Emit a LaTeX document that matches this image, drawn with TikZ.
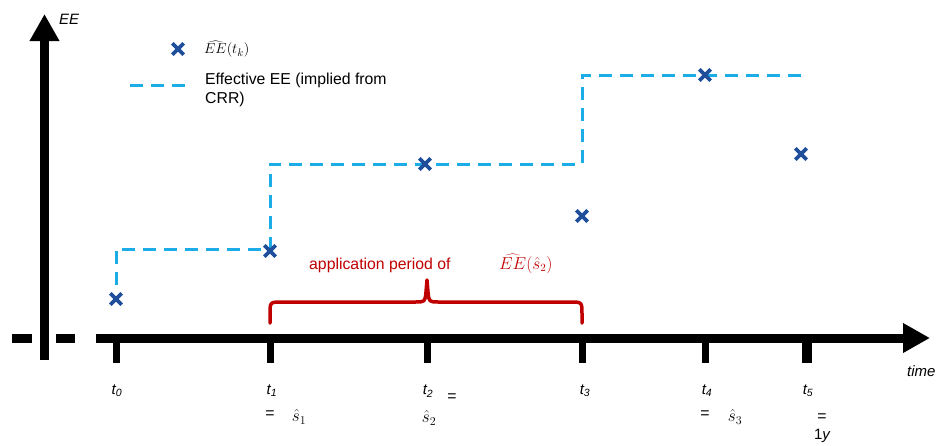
\documentclass[tikz,border=0pt]{standalone}
\usepackage{fontspec}
\setmainfont{Liberation Sans}
\usetikzlibrary{arrows.meta,shapes.misc}
\definecolor{xblue}{HTML}{1F4E9A}
\definecolor{dblue}{HTML}{1CADE8}
\definecolor{bred}{HTML}{C00000}
\begin{document}
\begin{tikzpicture}[x=1pt,y=-1pt,
  axis/.style={line width=9pt,black},
  tickmark/.style={line width=7pt,black},
  xmark/.style={draw=xblue,cross out,line width=3.8pt,minimum size=7.5pt,inner sep=0pt},
  eff/.style={dblue,line width=3pt,dash pattern=on 13pt off 8pt},
  lbl/.style={font=\fontsize{15}{17}\selectfont\itshape,inner sep=0pt},
  txt/.style={font=\fontsize{15.8}{19}\selectfont,inner sep=0pt,anchor=west,align=left},
  mth/.style={font=\fontsize{15}{17}\selectfont,inner sep=0pt},
  smth/.style={font=\fontsize{17}{19}\selectfont,inner sep=0pt},
  redtxt/.style={txt,text=bred}]
\useasboundingbox (0,0) rectangle (946,445);
% axes
\coordinate (ybot) at (44.5,360);
\coordinate (ytop) at (44.5,14);
\draw[axis,-{Triangle[length=27pt,width=28pt]}] (ybot) -- (ytop);
\coordinate (xl) at (96,338);
\coordinate (xr) at (930,338);
\draw[axis,-{Triangle[length=27pt,width=28pt]}] (xl) -- (xr);
\coordinate (d1a) at (12,338); \coordinate (d1b) at (32,338);
\coordinate (d2a) at (56,338); \coordinate (d2b) at (75,338);
\draw[axis] (d1a) -- (d1b);
\draw[axis] (d2a) -- (d2b);
\node[lbl,anchor=west] (EE) at (59,19) {EE};
\node[lbl,anchor=west] (time) at (907,371) {time};
% ticks
\foreach \n/\x in {0/116,1/270,2/427,3/582,4/705}{
  \coordinate (ta\n) at (\x,338);
  \coordinate (tb\n) at (\x,363);
  \draw[tickmark] (ta\n) -- (tb\n);
}
\coordinate (ta5) at (807,338); \coordinate (tb5) at (807,363);
\draw[line width=10pt] (ta5) -- (tb5);
\node[lbl] (t0) at (117,391) {t\textsubscript{0}};
\node[lbl] (t1) at (272,391) {t\textsubscript{1}};
\node[lbl] (t2) at (428,391) {t\textsubscript{2}};
\node[lbl] (t3) at (585,391) {t\textsubscript{3}};
\node[lbl] (t4) at (707,391) {t\textsubscript{4}};
\node[lbl] (t5) at (808,391) {t\textsubscript{5}};
\node[txt,anchor=center] (e1) at (270,415) {=};
\node[smth] (s1) at (299,417) {$\hat{s}_1$};
\node[txt,anchor=center] (e2) at (452,398) {=};
\node[smth] (s2) at (429,418) {$\hat{s}_2$};
\node[txt,anchor=center] (e4) at (705,415) {=};
\node[smth] (s3) at (735,417) {$\hat{s}_3$};
\node[txt,anchor=center] (e5) at (822,418) {=};
\node[lbl,anchor=center] (oney) at (822,436) {\upshape 1\itshape y};
% effective EE
\coordinate (p0) at (116,285);
\coordinate (p1) at (116,249);
\coordinate (p2) at (270,249);
\coordinate (p3) at (270,164);
\coordinate (p4) at (582,164);
\coordinate (p5) at (582,75);
\coordinate (p6) at (805,75);
\draw[eff] (p0) -- (p1) -- (p2) -- (p3) -- (p4) -- (p5) -- (p6);
% crosses
\node[xmark] (c0) at (116,299) {};
\node[xmark] (c1) at (270,251) {};
\node[xmark] (c2) at (425,164) {};
\node[xmark] (c3) at (582,216) {};
\node[xmark] (c4) at (705,75) {};
\node[xmark] (c5) at (801,154) {};
% legend
\node[xmark] (lc) at (178,49) {};
\node[mth,anchor=west] (lt1) at (204,49) {$\widehat{EE}(t_k)$};
\coordinate (la) at (130,85); \coordinate (lb) at (185,85);
\draw[eff] (la) -- (lb);
\node[txt,anchor=north west] (lt2) at (205,73) {Effective EE (implied from\\CRR)};
% brace
\draw[bred,line width=3.5pt,line cap=round,line join=round]
  (270,323) -- (270,314) .. controls (270,302) .. (282,302) -- (415,302)
  .. controls (425,302) .. (426,292) -- (427,280) -- (428,292)
  .. controls (429,302) .. (439,302) -- (570,302)
  .. controls (582,302) .. (582,314) -- (582,323);
\node[redtxt] (ap) at (309,265) {application period of};
\node[mth,text=bred,anchor=west] (ap2) at (499,264) {\fontsize{16}{18}\selectfont$\widehat{EE}(\hat{s}_2)$};
\end{tikzpicture}
\end{document}
